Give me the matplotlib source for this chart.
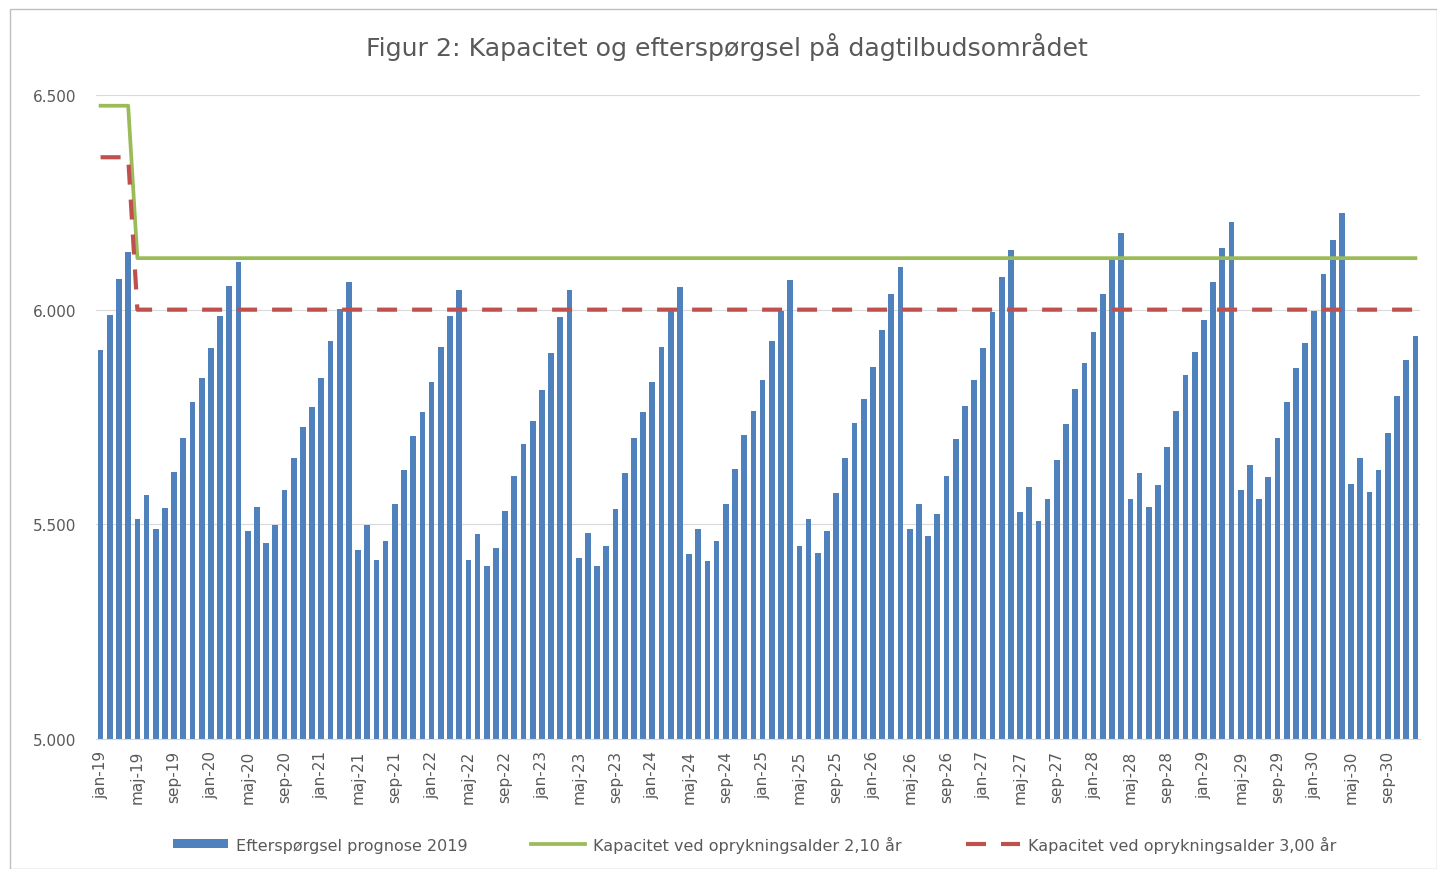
import matplotlib.pyplot as plt
import numpy as np
from matplotlib.patches import Rectangle

# Figur 2 - kapacitet og efterspørgsel, månedlig jan-19 til dec-30

maaneder = ['jan', 'feb', 'mar', 'apr', 'maj', 'jun', 'jul', 'aug', 'sep', 'okt', 'nov', 'dec']
aar = ['19', '20', '21', '22', '23', '24', '25', '26', '27', '28', '29', '30']

eftersporgsel = [
    5906, 5988, 6072, 6135, 5512, 5568, 5488, 5537, 5623, 5702, 5785, 5840,  # 2019
    5910, 5986, 6056, 6112, 5484, 5541, 5457, 5498, 5580, 5655, 5727, 5773,  # 2020
    5840, 5926, 6002, 6064, 5441, 5498, 5418, 5461, 5548, 5627, 5705, 5762,  # 2021
    5832, 5912, 5986, 6045, 5418, 5477, 5402, 5445, 5531, 5612, 5686, 5741,  # 2022
    5812, 5900, 5982, 6045, 5422, 5480, 5402, 5449, 5535, 5619, 5702, 5761,  # 2023
    5832, 5914, 5996, 6052, 5430, 5488, 5414, 5461, 5548, 5630, 5709, 5765,  # 2024
    5836, 5926, 5998, 6068, 5449, 5512, 5434, 5484, 5572, 5655, 5737, 5792,  # 2025
    5867, 5953, 6037, 6099, 5488, 5548, 5473, 5525, 5612, 5698, 5776, 5836,  # 2026
    5910, 5994, 6076, 6138, 5529, 5588, 5508, 5560, 5651, 5733, 5816, 5875,  # 2027
    5949, 6037, 6117, 6178, 5560, 5619, 5541, 5591, 5681, 5765, 5848, 5902,  # 2028
    5977, 6064, 6143, 6205, 5580, 5639, 5560, 5611, 5702, 5784, 5863, 5922,  # 2029
    5996, 6084, 6162, 6225, 5595, 5654, 5576, 5627, 5713, 5800, 5883, 5938,  # 2030
]

# kapacitet: første 4 måneder højere, derefter fast niveau
kap_210_start, kap_210 = 6475, 6120
kap_300_start, kap_300 = 6355, 6000
n_start = 4

labels_tick = [m + '-' + a for a in aar for m in maaneder]

n = len(eftersporgsel)
x = np.arange(n)
kap1 = np.array([kap_210_start] * n_start + [kap_210] * (n - n_start))
kap2 = np.array([kap_300_start] * n_start + [kap_300] * (n - n_start))

fig = plt.figure(figsize=(14.37, 8.7), dpi=100)
ax = fig.add_axes([96 / 1437, 1 - 740 / 870, (1420 - 96) / 1437, (740 - 96) / 870])

bars = ax.bar(x, eftersporgsel, width=0.62, color='#4F81BD', zorder=2)
l1, = ax.plot(x, kap1, color='#9BBB59', linewidth=2.7, zorder=3)
l2, = ax.plot(x, kap2, color='#C0504D', linewidth=3, dashes=(4.8, 3.6), zorder=3)

ax.set_xlim(-0.5, n - 0.5)
ax.set_ylim(5000, 6500)
ax.set_yticks([5000, 5500, 6000, 6500])
ax.set_yticklabels(['5.000', '5.500', '6.000', '6.500'])
ax.set_xticks(x[::4])
ax.set_xticklabels(labels_tick[::4], rotation=90)

ax.grid(axis='y', color='#D9D9D9', linewidth=0.8, zorder=0)
ax.set_axisbelow(True)
for s in ['top', 'right', 'left']:
    ax.spines[s].set_visible(False)
ax.spines['bottom'].set_color('#D9D9D9')
ax.tick_params(axis='both', length=0, colors='#595959', labelsize=11)
ax.tick_params(axis='y', pad=14)
ax.tick_params(axis='x', pad=8)

fig.text(727 / 1437, 1 - 47 / 870, 'Figur 2: Kapacitet og efterspørgsel på dagtilbudsområdet',
         ha='center', va='center', fontsize=18.2, color='#595959')

fig.legend([bars, l1, l2],
           ['Efterspørgsel prognose 2019',
            'Kapacitet ved oprykningsalder 2,10 år',
            'Kapacitet ved oprykningsalder 3,00 år'],
           loc='center', ncol=3, bbox_to_anchor=(755 / 1437, 1 - 845 / 870),
           frameon=False, fontsize=11.5, handlelength=3.4, handleheight=0.5,
           handletextpad=0.5, columnspacing=4, labelcolor='#595959')

# ramme rundt om diagrammet
fig.patches.append(Rectangle((10 / 1437, 0), 1 - 10 / 1437, 1 - 10 / 870,
                             transform=fig.transFigure, fill=False,
                             edgecolor='#BFBFBF', linewidth=1))

plt.savefig('out.png', dpi=100)
